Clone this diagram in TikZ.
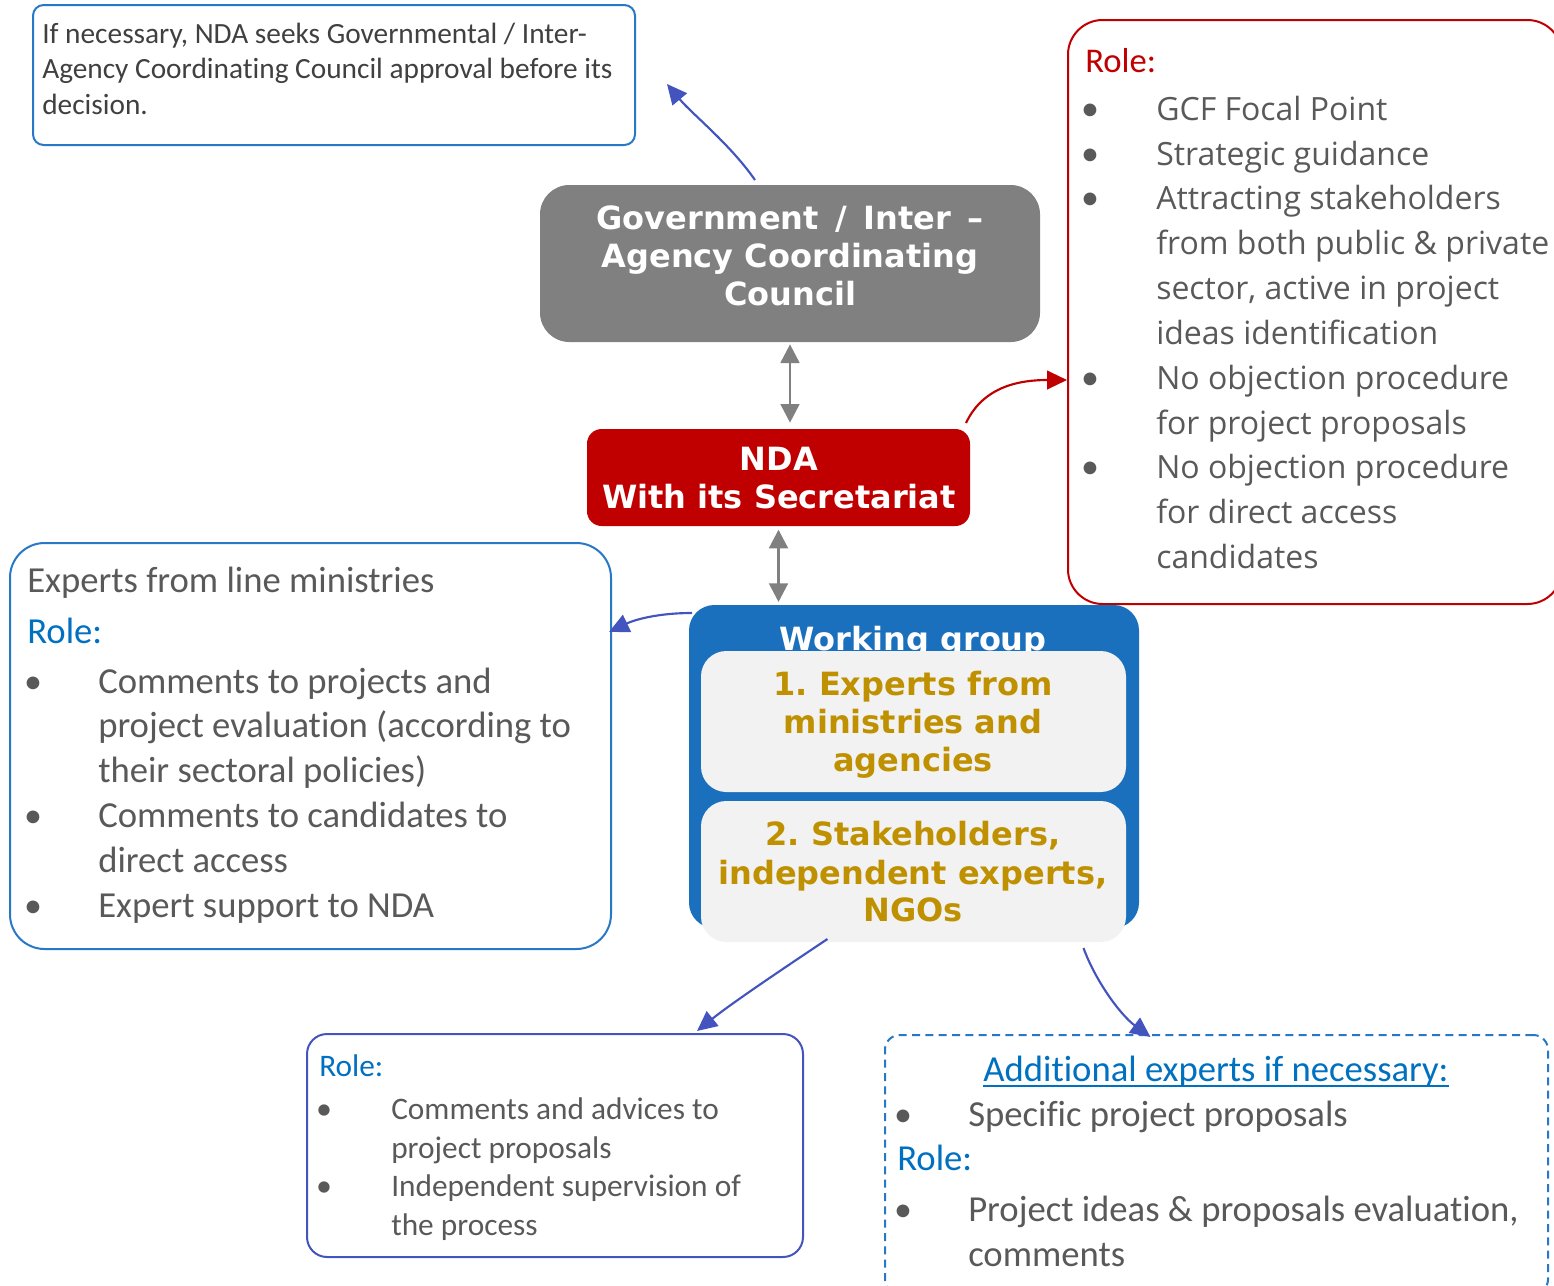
\documentclass[tikz,border=0pt]{standalone}
\usepackage{fontspec}
\setmainfont{Carlito}[Ligatures=NoCommon]
\newfontfamily\osans{Open Sans}
\newfontfamily\dvs{DejaVu Sans}
\usetikzlibrary{arrows.meta,fit,calc}
\definecolor{txtdark}{HTML}{404040}
\definecolor{txtgray}{HTML}{595959}
\definecolor{bordblue}{HTML}{2878C8}
\definecolor{roleblue}{HTML}{0070C0}
\definecolor{wgblue}{HTML}{1A70BC}
\definecolor{indigo}{HTML}{4454BE}
\definecolor{govgray}{HTML}{808080}
\definecolor{ndared}{HTML}{C00000}
\definecolor{gold}{HTML}{BF9000}
\definecolor{innerfill}{HTML}{F2F2F2}
\frenchspacing
\begin{document}
\begin{tikzpicture}[x=0.75pt,y=-0.75pt,
  frame/.style={fit={#1},inner sep=0pt,draw,line width=1.5pt},
  calline/.style={font=\fontsize{27.5}{33}\selectfont,text=txtgray,anchor=base west,inner sep=0pt},
  calsmall/.style={font=\fontsize{23.5}{29}\selectfont,text=txtgray,anchor=base west,inner sep=0pt},
  tltext/.style={font=\fontsize{22}{26}\selectfont,text=txtdark,anchor=base west,inner sep=0pt},
  osline/.style={font=\osans\fontsize{24}{30}\selectfont,text=txtgray,anchor=base west,inner sep=0pt},
  bul/.style={text=txtgray,anchor=base,inner sep=0pt,font=\fontsize{27}{33}\selectfont},
  roletxt/.style={font=\fontsize{#1}{30}\selectfont,text=roleblue,anchor=base west,inner sep=0pt},
  boldw/.style={font=\dvs\bfseries\fontsize{24}{28}\selectfont,text=white,anchor=base,inner sep=0pt},
  boldg/.style={font=\dvs\bfseries\fontsize{24}{28}\selectfont,text=gold,anchor=base,inner sep=0pt},
  darr/.style={{Triangle[length=14pt,width=14pt]}-{Triangle[length=14pt,width=14pt]},line width=2.2pt,draw=govgray,color=govgray},
  iarr/.style={-{Triangle[length=15pt,width=14pt]},line width=1.6pt,draw=indigo,color=indigo},
  rarr/.style={-{Triangle[length=15pt,width=14pt]},line width=1.6pt,draw=ndared,color=ndared}
]
\useasboundingbox (0,0) rectangle (1554,1286);
\clip (0,0) rectangle (1554,1286);

% ---- top-left note
\node[frame={(33,5) (635,145)},draw=bordblue,rounded corners=8pt] (tl) {};
\node[tltext] (tl1) at (42,43) {If necessary, NDA seeks Governmental / Inter-};
\node[tltext] (tl2) at (42,78) {Agency Coordinating Council approval before its};
\node[tltext] (tl3) at (42,114) {decision.};

% ---- government box
\node[frame={(540,185) (1040,342)},draw=none,fill=govgray,rounded corners=22pt] (gov) {};
\node[boldw] (gov1) at (790,229) {Government\hspace{4pt} /\hspace{4pt} Inter\hspace{4pt} –};
\node[boldw] (gov2) at (790,267) {Agency Coordinating};
\node[boldw] (gov3) at (790,305) {Council};

% ---- NDA box
\node[frame={(587,429) (970,526)},draw=none,fill=ndared,rounded corners=11pt] (nda) {};
\node[boldw] (nda1) at (779,470) {NDA};
\node[boldw] (nda2) at (779,508) {With its Secretariat};

% ---- red role box
\node[frame={(1068,20) (1562,604)},draw=ndared,rounded corners=26pt] (red) {};
\node[roletxt=26,text=ndared] (r0) at (1085,72) {Role:};
\foreach \y in {120,165,209,389,478}{\node[bul] at (1090,\y) {•};}
\node[osline] (r1) at (1156,120) {GCF Focal Point};
\node[osline] (r2) at (1156,165) {Strategic guidance};
\node[osline] (r3) at (1156,209) {Attracting stakeholders};
\node[osline] (r4) at (1156,254) {from both public \& private};
\node[osline] (r5) at (1156,299) {sector, active in project};
\node[osline] (r6) at (1156,344) {ideas identification};
\node[osline] (r7) at (1156,389) {No objection procedure};
\node[osline] (r8) at (1156,434) {for project proposals};
\node[osline] (r9) at (1156,478) {No objection procedure};
\node[osline] (r10) at (1156,523) {for direct access};
\node[osline] (r11) at (1156,568) {candidates};

% ---- working group
\node[frame={(689,605) (1139,928)},draw=none,fill=wgblue,rounded corners=19pt] (wg) {};
\node[boldw] (wgt) at (913,650) {Working group};
\node[frame={(701,651) (1126,792)},draw=none,fill=innerfill,rounded corners=19pt] (in1) {};
\node[frame={(701,801) (1126,942)},draw=none,fill=innerfill,rounded corners=19pt] (in2) {};
\node[boldg] (g1) at (913,695) {1. Experts from};
\node[boldg] (g2) at (913,733) {ministries and};
\node[boldg] (g3) at (913,771) {agencies};
\node[boldg] (g4) at (913,845) {2. Stakeholders,};
\node[boldg] (g5) at (913,884) {independent experts,};
\node[boldg] (g6) at (913,921) {NGOs};

% ---- left box
\node[frame={(10,543) (611,949)},draw=bordblue,rounded corners=26pt] (left) {};
\node[calline] (l0) at (27,592) {Experts from line ministries};
\node[roletxt=27.5] (lr) at (27,643) {Role:};
\foreach \y in {693,827,917}{\node[bul] at (33,\y) {•};}
\node[calline] (l1) at (98,693) {Comments to projects and};
\node[calline] (l2) at (98,737) {project evaluation (according to};
\node[calline] (l3) at (98,782) {their sectoral policies)};
\node[calline] (l4) at (98,827) {Comments to candidates to};
\node[calline] (l5) at (98,872) {direct access};
\node[calline] (l6) at (98,917) {Expert support to NDA};

% ---- bottom-middle box
\node[frame={(307,1034) (803,1257)},draw=indigo,rounded corners=15pt] (bm) {};
\node[roletxt=23.5] (br0) at (319,1076) {Role:};
\foreach \y in {1119,1196}{\node[bul,font=\fontsize{24}{29}\selectfont] at (324,\y) {•};}
\node[calsmall] (b1) at (391,1119) {Comments and advices to};
\node[calsmall] (b2) at (391,1158) {project proposals};
\node[calsmall] (b3) at (391,1196) {Independent supervision of};
\node[calsmall] (b4) at (391,1235) {the process};

% ---- bottom-right dashed box
\node[frame={(885,1035) (1548,1294)},draw=bordblue,dash pattern=on 6pt off 4pt,rounded corners=11pt] (brx) {};
\node[roletxt=27.5,anchor=base] (add) at (1216,1081) {Additional experts if necessary:};
\draw[roleblue,line width=1.3pt] ($(add.base west)+(0,5)$) -- ($(add.base east)+(0,5)$);
\foreach \y in {1126,1221}{\node[bul] at (903,\y) {•};}
\node[calline] (x1) at (968,1126) {Specific project proposals};
\node[roletxt=27.5] (xr) at (897,1170) {Role:};
\node[calline] (x2) at (968,1221) {Project ideas \& proposals evaluation,};
\node[calline] (x3) at (968,1266) {comments};

% ---- connectors
\draw[darr,shorten <=1pt,shorten >=4pt] (gov.south) -- (gov.south |- nda.north);
\draw[darr,shorten <=2pt,shorten >=1.5pt] (nda.south) -- (nda.south |- wg.north);
\draw[iarr] ($(gov.north)+(-35,-4)$) .. controls +(-25,-36) and +(25,30) .. ($(tl.east)+(31,9)$);
\draw[rarr] ($(nda.north east)+(-5,-5)$) .. controls +(18,-38) and +(-45,0) .. (red.west |- 0,380);
\draw[iarr] ($(wg.north west)+(4,9)$) .. controls +(-35,0) and +(25,-12) .. ($(left.north east)+(-3,90)$);
\draw[iarr] ($(in2.south)+(-86,-4)$) .. controls +(-45,30) and +(35,-28) .. ($(bm.north)+(142,-2)$);
\draw[iarr] ($(in2.south)+(170,5)$) .. controls +(12,33) and +(-30,-22) .. ($(brx.north)+(-66,3)$);
\end{tikzpicture}
\end{document}
